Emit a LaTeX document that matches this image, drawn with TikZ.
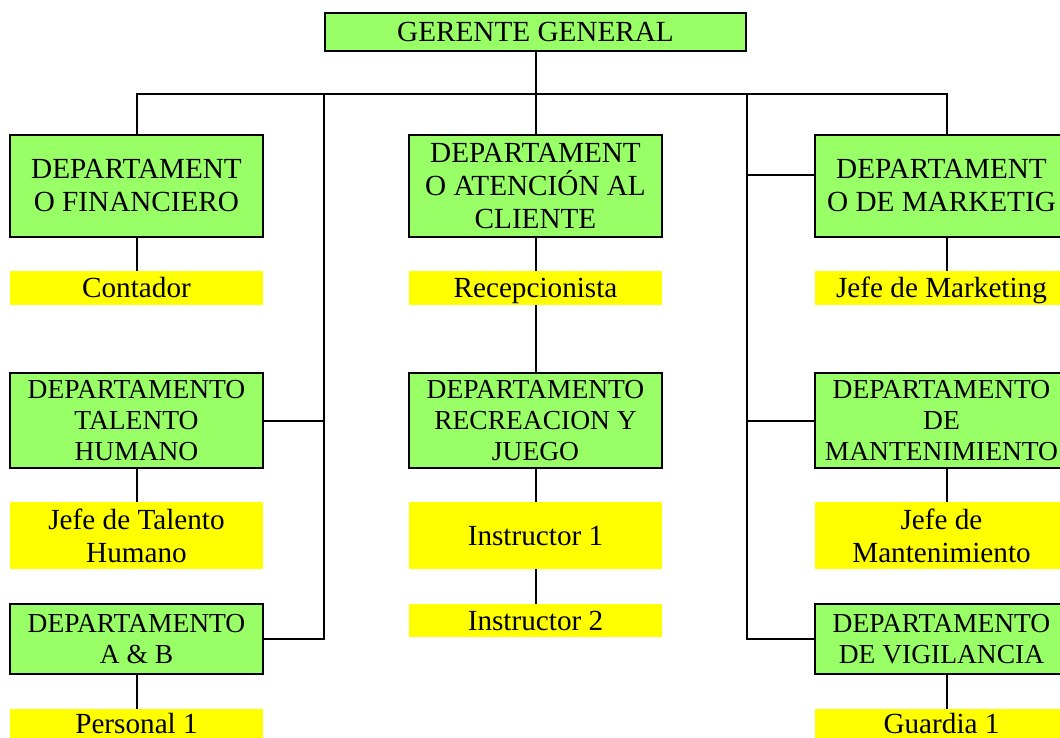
\documentclass[tikz,border=0pt]{standalone}
\usepackage{fontspec}
\setmainfont{Liberation Serif}
\usetikzlibrary{positioning}
\definecolor{verde}{HTML}{99FF66}
\definecolor{amarillo}{HTML}{FFFF00}

\begin{document}
\begin{tikzpicture}[x=1pt,y=-1pt,
		linea/.style={line width=2pt},
		depto/.style={draw,line width=2pt,fill=verde,minimum width=253pt,
			inner sep=0pt,align=center,font=\fontsize{29.2}{33}\selectfont},
		deptochico/.style={depto,font=\fontsize{27.5}{31}\selectfont},
		cargodos/.style={fill=amarillo,minimum width=253pt,inner sep=0pt,
			align=center,font=\fontsize{29.2}{33}\selectfont},
		cargo/.style={cargodos,text height=19pt,text depth=0pt}]
		\useasboundingbox (0,0) rectangle (1060,738);
		\clip (0,0) rectangle (1060,738);
		\node[depto,minimum width=421pt,minimum height=38pt,text height=19pt,text depth=0pt] (ger) at (535.5,32) {GERENTE GENERAL};
		% columna izquierda
		\node[depto,minimum height=102pt] (fin) at (136.5,186) {DEPARTAMENT\\O FINANCIERO};
		\node[cargo,minimum height=34pt] (cont) at (136.5,288) {Contador};
		\node[deptochico,minimum height=95pt] (th) at (136.5,420.5) {DEPARTAMENTO\\TALENTO\\HUMANO};
		\node[cargodos,minimum height=67pt] (jth) at (136.5,535.5) {Jefe de Talento\\Humano};
		\node[deptochico,minimum height=70pt] (ab) at (136.5,639) {DEPARTAMENTO\\A \& B};
		\node[cargo,minimum height=29pt] (pers) at (136.5,723.5) {Personal 1};
		% columna central
		\node[depto,minimum height=102pt] (aten) at (535.5,186) {DEPARTAMENT\\O ATENCIÓN AL\\CLIENTE};
		\node[cargo,minimum height=34pt] (recep) at (535.5,288) {Recepcionista};
		\node[deptochico,minimum height=95pt] (recr) at (535.5,420.5) {DEPARTAMENTO\\RECREACION Y\\JUEGO};
		\node[cargo,minimum height=67pt] (ins1) at (535.5,535.5) {Instructor 1};
		\node[cargo,minimum height=33pt] (ins2) at (535.5,620.5) {Instructor 2};
		% columna derecha
		\node[depto,minimum height=102pt] (mkt) at (941.5,186) {DEPARTAMENT\\O DE MARKETIG};
		\node[cargo,minimum height=34pt] (jmkt) at (941.5,288) {Jefe de Marketing};
		\node[deptochico,minimum height=95pt] (mant) at (941.5,420.5) {DEPARTAMENTO\\DE\\MANTENIMIENTO};
		\node[cargodos,minimum height=67pt] (jmant) at (941.5,535.5) {Jefe de\\Mantenimiento};
		\node[deptochico,minimum height=70pt] (vig) at (941.5,639) {DEPARTAMENTO\\DE VIGILANCIA};
		\node[cargo,minimum height=29pt] (guar) at (941.5,723.5) {Guardia 1};
		% lineas
		\coordinate (bus) at (535.5,94);
		\draw[linea] (fin.north) -- (fin.north |- bus) -- ([xshift=5.5pt]mkt.north |- bus) -- ([xshift=5.5pt]mkt.north);
		\draw[linea] (ger) -- (aten);
		\draw[linea] (ger.south west |- bus) -- (ger.south west |- ab.east) -- (ab.east);
		\draw[linea] (th.east) -- (th.east -| ger.south west);
		\draw[linea] (ger.south east |- bus) -- (ger.south east |- vig.west) -- (vig.west);
		\draw[linea] (mant.west) -- (mant.west -| ger.south east);
		\draw[linea] ([yshift=11pt]mkt.west) -- ([yshift=11pt]mkt.west -| ger.south east);
		\foreach \a/\b/\d in {fin/cont/0,th/jth/0,ab/pers/0,aten/recep/0,recep/recr/0,
			recr/ins1/0,ins1/ins2/0,mkt/jmkt/5.5,mant/jmant/5.5,vig/guar/5.5}{
			\draw[linea] ([xshift=\d pt]\a.south) -- ([xshift=\d pt]\b.north);
		}
	\end{tikzpicture}
\end{document}
